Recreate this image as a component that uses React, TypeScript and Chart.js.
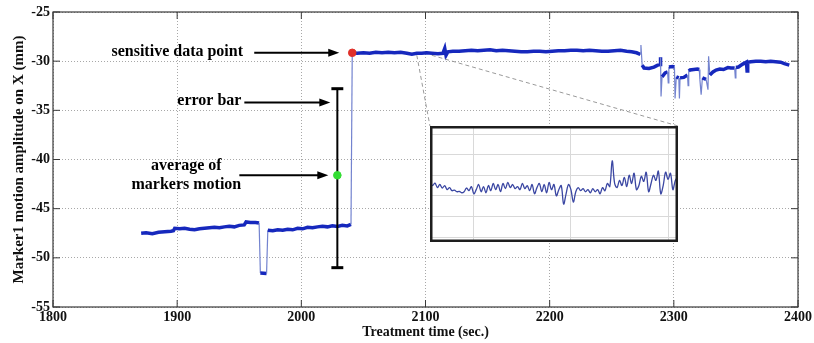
import React, { useEffect, useRef } from 'react';
import { Chart, registerables } from 'chart.js';

Chart.register(...registerables);

// ---- main series: Marker1 motion amplitude on X (mm) vs treatment time (sec.)
const motionTime = [
  1871, 1875, 1880, 1885, 1890, 1895, 1897, 1898, 1902, 1906, 1910, 1914, 1918, 1922, 1926, 1930,
  1934, 1938, 1942, 1946, 1950, 1954, 1955.5, 1959, 1963, 1966, 1967, 1972, 1973, 1977, 1981, 1985,
  1989, 1993, 1997, 2001, 2005, 2009, 2013, 2017, 2021, 2025, 2029, 2033, 2037, 2040,
  2041, 2045, 2050, 2055, 2060, 2065, 2070, 2075, 2080, 2085, 2089, 2093, 2097, 2101, 2105, 2110,
  2114, 2115.5, 2116.5, 2118, 2122, 2127, 2132, 2137, 2142, 2147, 2152, 2157, 2162, 2167, 2172,
  2177, 2182, 2187, 2192, 2197, 2202, 2207, 2212, 2217, 2222, 2227, 2232, 2237, 2242, 2247, 2252,
  2257, 2262, 2266, 2270, 2273, 2273.5, 2274.5, 2276, 2280, 2284, 2287, 2289, 2289.3, 2289.7, 2290.5,
  2293, 2295, 2295.5, 2296, 2299, 2300.5, 2301, 2302, 2304, 2304.5, 2305, 2308, 2311, 2311.5, 2312,
  2313, 2316, 2319, 2320.5, 2321, 2322, 2323, 2326, 2327.5, 2328, 2329, 2331.5, 2334, 2337, 2340,
  2343.5, 2346, 2349, 2349.5, 2350, 2352, 2355.5, 2358.5, 2359, 2359.5, 2362, 2366, 2370, 2374, 2378,
  2382, 2386, 2389, 2393,
];
const motionX = [
  -47.5, -47.45, -47.55, -47.4, -47.35, -47.3, -47.25, -47.0, -47.05, -47.0, -47.1, -47.15, -47.05, -47.0, -46.95, -46.9,
  -46.95, -46.85, -46.8, -46.85, -46.7, -46.65, -46.35, -46.4, -46.4, -46.45, -51.55, -51.6, -47.2, -47.25, -47.15, -47.2,
  -47.1, -47.15, -47.0, -47.05, -46.9, -46.95, -46.85, -46.8, -46.85, -46.75, -46.8, -46.7, -46.75, -46.6,
  -29.15, -29.2, -29.15, -29.2, -29.1, -29.15, -29.1, -29.15, -29.1, -29.2, -29.3, -29.2, -29.2, -29.15, -29.2, -29.25,
  -29.2, -28.7, -29.4, -29.05, -29.0, -29.0, -28.95, -28.9, -28.95, -28.9, -28.85, -28.95, -28.9, -28.95, -29.0,
  -29.05, -29.05, -29.0, -29.0, -29.05, -29.0, -28.95, -28.95, -28.9, -28.9, -28.95, -28.9, -28.95, -29.0, -29.0, -28.95,
  -28.9, -29.0, -29.05, -29.15, -29.3, -28.35, -30.4, -30.7, -30.75, -30.6, -30.4, -30.35, -29.6, -33.6, -31.6,
  -31.2, -31.1, -32.2, -30.6, -30.55, -30.6, -33.8, -31.6, -31.7, -33.8, -31.7, -31.65, -31.4, -32.5, -31.0,
  -30.9, -30.85, -30.8, -30.85, -31.9, -33.4, -31.7, -31.85, -32.9, -29.5, -31.4, -31.1, -30.9, -30.8, -30.85,
  -30.65, -30.7, -30.7, -31.7, -30.65, -30.6, -30.3, -30.1, -31.0, -30.1, -30.05, -30.0, -30.0, -30.05, -30.0,
  -30.05, -30.1, -30.25, -30.4,
];

// ---- markers: error bar, average, sensitive point
const errorBarTime = 2029;
const errorBarLow = -51.0;
const errorBarHigh = -32.8;
const errorCapHalf = 4.8;
const averageMotion = -41.6;
const sensitiveTime = 2041;
const sensitiveX = -29.15;

// ---- axes
const xTickValues = [1800, 1900, 2000, 2100, 2200, 2300, 2400];
const yTickValues = [-55, -50, -45, -40, -35, -30, -25];

// ---- inset (zoomed detail)
const insetSample = [
  2, 3, 4, 5, 6, 7, 8, 9, 10, 11, 12, 13, 14, 15, 16, 17, 18, 19, 20, 21, 22, 23, 24, 25, 26, 27, 28, 29, 30,
  31, 32, 33, 34, 35, 36, 37, 38, 39, 40, 41, 42, 43, 44, 45, 46, 47, 48, 49, 50, 51, 52, 53, 54, 55, 56, 57,
  58, 59, 60, 61, 62, 63, 64, 65, 66, 67, 68, 69, 70, 71, 72, 73, 74, 75, 76, 77, 78, 79, 80, 81, 82, 83, 84,
  85, 86, 87, 88, 89, 90, 91, 92, 93, 94, 95, 96, 97, 98, 99, 100, 101, 102, 103, 104,
];
const insetValue = [
  2.65, 2.5, 2.62, 2.4, 2.55, 2.38, 2.5, 2.3, 2.4, 2.25, 2.28, 2.2, 2.22, 2.15, 2.2, 2.38, 2.25, 2.45, 2.1, 2.3,
  2.55, 2.2, 2.45, 2.15, 2.5, 2.25, 2.6, 2.3, 2.55, 2.2, 2.6, 2.35, 2.65, 2.4, 2.55, 2.35, 2.45, 2.3, 2.6, 2.35,
  2.5, 2.25, 2.55, 2.1, 2.4, 2.6, 2.2, 2.55, 2.15, 2.65, 2.3, 2.55, 2.0, 2.3, 2.5, 1.6, 2.1, 2.55, 2.3, 1.7,
  2.2, 2.4, 2.25, 2.35, 2.2, 2.3, 2.15, 2.35, 2.2, 2.3, 2.1, 2.4, 2.25, 2.6, 2.45, 3.7, 2.6, 2.4, 2.75, 2.5,
  2.9, 2.45, 3.0, 2.6, 3.1, 2.3, 2.5, 2.95, 2.7, 3.15, 2.2, 2.6, 3.0, 2.75, 3.2, 2.1, 2.5, 3.15, 2.8, 3.1,
  2.3, 2.75, 2.9,
];
const insetGridX = [20, 60, 100];
const insetGridY = [0, 1, 2, 3, 4, 5];

const SERIF = "'Liberation Serif', 'Times New Roman', serif";
const BLUE = '#1628bd';
const BLUE_THIN = '#7383cf';

export default function App() {
  const mainRef = useRef<HTMLCanvasElement | null>(null);
  const insetRef = useRef<HTMLCanvasElement | null>(null);

  useEffect(() => {
    if (!mainRef.current || !insetRef.current) return;

    // inset box location expressed in main-axis units
    const insetBox = { x0: 2103.6, x1: 2303.6, yTop: -36.6, yBottom: -48.4 };

    const overlay = {
      id: 'overlay',
      afterDatasetsDraw(chart: any) {
        const ctx = chart.ctx as CanvasRenderingContext2D;
        const xs = chart.scales.x;
        const ys = chart.scales.y;
        const a = chart.chartArea;
        ctx.save();
        // box
        ctx.strokeStyle = '#3a3a3a';
        ctx.lineWidth = 1.2;
        ctx.strokeRect(a.left, a.top, a.right - a.left, a.bottom - a.top);
        // inward ticks
        ctx.lineWidth = 1;
        const tl = 7;
        xTickValues.forEach((v) => {
          const px = xs.getPixelForValue(v);
          ctx.beginPath();
          ctx.moveTo(px, a.bottom); ctx.lineTo(px, a.bottom - tl);
          ctx.moveTo(px, a.top); ctx.lineTo(px, a.top + tl);
          ctx.stroke();
        });
        yTickValues.forEach((v) => {
          const py = ys.getPixelForValue(v);
          ctx.beginPath();
          ctx.moveTo(a.left, py); ctx.lineTo(a.left + tl, py);
          ctx.moveTo(a.right, py); ctx.lineTo(a.right - tl, py);
          ctx.stroke();
        });
        // zoom lines
        ctx.strokeStyle = '#9a9a9a';
        ctx.setLineDash([4, 3]);
        ctx.lineWidth = 1;
        ctx.beginPath();
        ctx.moveTo(xs.getPixelForValue(2093), ys.getPixelForValue(-29.4));
        ctx.lineTo(xs.getPixelForValue(insetBox.x0), ys.getPixelForValue(insetBox.yTop));
        ctx.moveTo(xs.getPixelForValue(2105), ys.getPixelForValue(-29.4));
        ctx.lineTo(xs.getPixelForValue(insetBox.x1), ys.getPixelForValue(insetBox.yTop));
        ctx.stroke();
        ctx.setLineDash([]);

        // annotations
        const arrow = (x0: number, x1: number, y: number) => {
          ctx.strokeStyle = '#000';
          ctx.fillStyle = '#000';
          ctx.lineWidth = 2;
          ctx.beginPath();
          ctx.moveTo(x0, y);
          ctx.lineTo(x1 - 8, y);
          ctx.stroke();
          ctx.beginPath();
          ctx.moveTo(x1, y);
          ctx.lineTo(x1 - 11, y - 4);
          ctx.lineTo(x1 - 11, y + 4);
          ctx.closePath();
          ctx.fill();
        };
        ctx.font = `bold 16px ${SERIF}`;
        ctx.fillStyle = '#000';
        ctx.textAlign = 'center';
        ctx.textBaseline = 'middle';
        const sy = ys.getPixelForValue(sensitiveX);
        const sx = xs.getPixelForValue(sensitiveTime);
        ctx.fillText('sensitive data point', sx - 175, sy - 1);
        arrow(sx - 98, sx - 13, sy);
        const ex = xs.getPixelForValue(errorBarTime);
        const ey = ys.getPixelForValue(-34.2);
        ctx.fillStyle = '#000';
        ctx.fillText('error bar', ex - 128, ey - 2);
        arrow(ex - 93, ex - 7, ey);
        const ay = ys.getPixelForValue(averageMotion);
        ctx.fillStyle = '#000';
        ctx.fillText('average of', ex - 151, ay - 9.5);
        ctx.fillText('markers motion', ex - 151, ay + 9.5);
        arrow(ex - 98, ex - 9, ay);
        ctx.restore();
      },
    };

    const main = new Chart(mainRef.current, {
      type: 'line',
      data: {
        datasets: [
          {
            label: 'sensitive',
            data: [{ x: sensitiveTime, y: sensitiveX }],
            showLine: false,
            pointRadius: 3.8,
            pointBackgroundColor: '#e0302a',
            pointBorderColor: '#e0302a',
          },
          {
            label: 'average',
            data: [{ x: errorBarTime, y: averageMotion }],
            showLine: false,
            pointRadius: 3.8,
            pointBackgroundColor: '#33dd33',
            pointBorderColor: '#33dd33',
          },
          {
            label: 'capHigh',
            data: [{ x: errorBarTime - errorCapHalf, y: errorBarHigh }, { x: errorBarTime + errorCapHalf, y: errorBarHigh }],
            borderColor: '#000',
            borderWidth: 3,
            pointRadius: 0,
          },
          {
            label: 'capLow',
            data: [{ x: errorBarTime - errorCapHalf, y: errorBarLow }, { x: errorBarTime + errorCapHalf, y: errorBarLow }],
            borderColor: '#000',
            borderWidth: 3,
            pointRadius: 0,
          },
          {
            label: 'errorBar',
            data: [{ x: errorBarTime, y: errorBarLow }, { x: errorBarTime, y: errorBarHigh }],
            borderColor: '#000',
            borderWidth: 2,
            pointRadius: 0,
          },
          {
            label: 'motion',
            data: motionTime.map((t, i) => ({ x: t, y: motionX[i] })),
            borderColor: BLUE,
            borderWidth: 3.5,
            pointRadius: 0,
            tension: 0,
            segment: {
              borderWidth: (c: any) => (Math.abs(c.p1.parsed.y - c.p0.parsed.y) > 0.9 ? 1.2 : 3.5),
              borderColor: (c: any) => (Math.abs(c.p1.parsed.y - c.p0.parsed.y) > 0.9 ? BLUE_THIN : BLUE),
            },
          },
        ],
      },
      options: {
        animation: false,
        responsive: false,
        events: [],
        parsing: false as any,
        layout: { padding: { left: 0, top: 12, right: 14, bottom: 0 } },
        plugins: { legend: { display: false }, tooltip: { enabled: false } },
        scales: {
          x: {
            type: 'linear',
            min: 1800,
            max: 2400,
            afterBuildTicks: (axis: any) => {
              axis.ticks = xTickValues.map((v) => ({ value: v }));
            },
            afterFit: (axis: any) => {
              axis.height = 36;
            },
            ticks: {
              color: '#111',
              padding: 2,
              maxRotation: 0,
              callback: (v: any) => String(v),
              font: { family: SERIF, size: 14, weight: 'bold' },
            },
            grid: { color: '#a8a8a8', lineWidth: 1, drawTicks: false },
            border: { display: false, dash: [1, 2] },
            title: {
              display: true,
              text: 'Treatment time (sec.)',
              color: '#111',
              font: { family: SERIF, size: 14, weight: 'bold' },
              padding: { top: 0, bottom: 2 },
            },
          },
          y: {
            type: 'linear',
            min: -55,
            max: -25,
            afterBuildTicks: (axis: any) => {
              axis.ticks = yTickValues.map((v) => ({ value: v }));
            },
            afterFit: (axis: any) => {
              axis.width = 53;
            },
            ticks: {
              color: '#111',
              padding: 3,
              callback: (v: any) => String(v),
              font: { family: SERIF, size: 14, weight: 'bold' },
            },
            grid: { color: '#a8a8a8', lineWidth: 1, drawTicks: false },
            border: { display: false, dash: [1, 2] },
            title: {
              display: true,
              text: 'Marker1 motion amplitude on X (mm)',
              color: '#111',
              font: { family: SERIF, size: 15, weight: 'bold' },
              padding: { top: 10, bottom: 0 },
            },
          },
        },
      },
      plugins: [overlay],
    });

    // place the inset according to the main scales
    const xs: any = main.scales.x;
    const ys: any = main.scales.y;
    const left = Math.round(xs.getPixelForValue(insetBox.x0));
    const right = Math.round(xs.getPixelForValue(insetBox.x1));
    const top = Math.round(ys.getPixelForValue(insetBox.yTop));
    const bottom = Math.round(ys.getPixelForValue(insetBox.yBottom));
    const ic = insetRef.current;
    ic.width = right - left;
    ic.height = bottom - top;
    ic.style.left = left + 'px';
    ic.style.top = top + 'px';
    ic.style.width = right - left + 'px';
    ic.style.height = bottom - top + 'px';

    const insetFrame = {
      id: 'insetFrame',
      beforeDraw(chart: any) {
        const ctx = chart.ctx as CanvasRenderingContext2D;
        ctx.save();
        ctx.fillStyle = '#fff';
        ctx.fillRect(0, 0, chart.width, chart.height);
        ctx.restore();
      },
      afterDraw(chart: any) {
        const ctx = chart.ctx as CanvasRenderingContext2D;
        ctx.save();
        ctx.strokeStyle = '#1e1e1e';
        ctx.lineWidth = 2.5;
        ctx.strokeRect(1.25, 1.25, chart.width - 2.5, chart.height - 2.5);
        ctx.restore();
      },
    };

    const inset = new Chart(ic, {
      type: 'line',
      data: {
        datasets: [
          {
            data: insetSample.map((s, i) => ({ x: s, y: insetValue[i] })),
            borderColor: '#3b47a3',
            borderWidth: 1.3,
            pointRadius: 0,
            tension: 0.35,
          },
        ],
      },
      options: {
        animation: false,
        responsive: false,
        events: [],
        parsing: false as any,
        layout: { padding: 0 },
        plugins: { legend: { display: false }, tooltip: { enabled: false } },
        scales: {
          x: {
            type: 'linear',
            min: 1.95,
            max: 104.1,
            afterBuildTicks: (axis: any) => {
              axis.ticks = insetGridX.map((v) => ({ value: v }));
            },
            afterFit: (axis: any) => {
              axis.height = 0;
            },
            ticks: { display: false },
            grid: { color: '#d9d9d9', drawTicks: false },
            border: { display: false },
          },
          y: {
            type: 'linear',
            min: -0.24,
            max: 5.39,
            afterBuildTicks: (axis: any) => {
              axis.ticks = insetGridY.map((v) => ({ value: v }));
            },
            afterFit: (axis: any) => {
              axis.width = 0;
            },
            ticks: { display: false },
            grid: { color: '#d9d9d9', drawTicks: false },
            border: { display: false },
          },
        },
      },
      plugins: [insetFrame],
    });

    return () => {
      inset.destroy();
      main.destroy();
    };
  }, []);

  return (
    <div style={{ position: 'absolute', left: 0, top: 0, width: 814, height: 343, background: '#fff' }}>
      <canvas ref={mainRef} width={814} height={343} style={{ position: 'absolute', left: 0, top: 0, width: 814, height: 343 }} />
      <canvas ref={insetRef} style={{ position: 'absolute' }} />
    </div>
  );
}
